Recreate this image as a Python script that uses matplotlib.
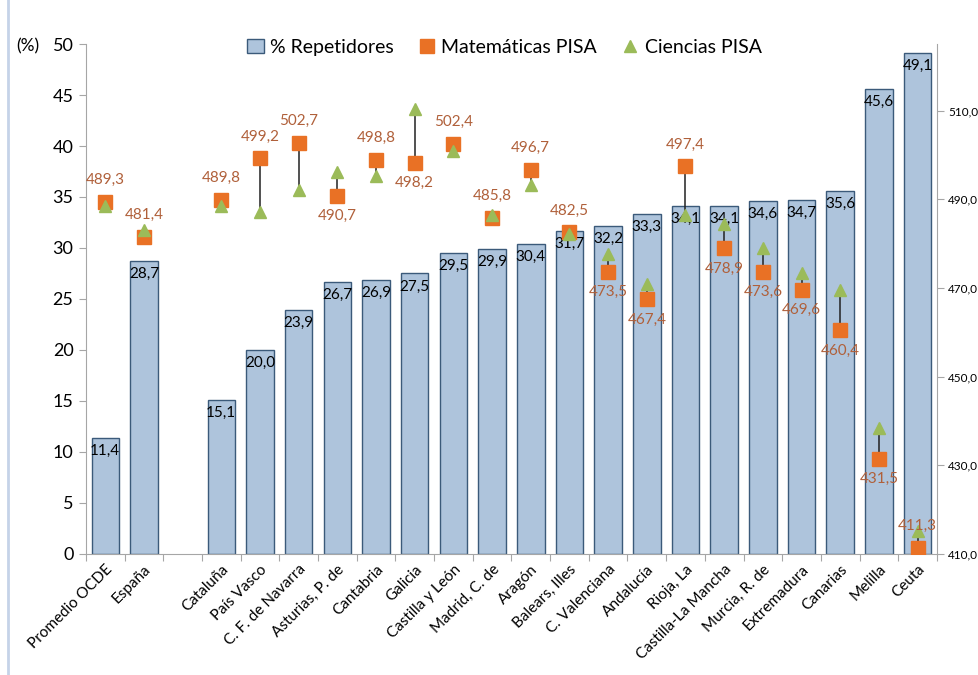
import matplotlib
matplotlib.use("Agg")
import matplotlib.pyplot as plt
import numpy as np

plt.rcParams['font.family'] = ['Lato', 'DejaVu Sans']

categories = ["Promedio OCDE", "España", "", "Cataluña", "País Vasco", "C. F. de Navarra",
              "Asturias, P. de", "Cantabria", "Galicia", "Castilla y León", "Madrid, C. de",
              "Aragón", "Balears, Illes", "C. Valenciana", "Andalucía", "Rioja, La",
              "Castilla-La Mancha", "Murcia, R. de", "Extremadura", "Canarias", "Melilla", "Ceuta"]
repetidores = [11.4, 28.7, np.nan, 15.1, 20.0, 23.9, 26.7, 26.9, 27.5, 29.5, 29.9, 30.4,
               31.7, 32.2, 33.3, 34.1, 34.1, 34.6, 34.7, 35.6, 45.6, 49.1]
matematicas = [489.3, 481.4, np.nan, 489.8, 499.2, 502.7, 490.7, 498.8, 498.2, 502.4, 485.8,
               496.7, 482.5, 473.5, 467.4, 497.4, 478.9, 473.6, 469.6, 460.4, 431.5, 411.3]
ciencias = [488.5, 483.0, np.nan, 488.5, 487.2, 492.0, 496.1, 495.3, 510.4, 500.8, 486.5,
            493.3, 482.2, 477.6, 470.8, 486.5, 484.3, 478.9, 473.4, 469.5, 438.4, 415.2]
# label below marker (True) or above (False)
label_below = [False, False, False, False, False, False, True, False, True, False, False,
               False, False, True, True, False, True, True, True, True, True, False]

bar_fill = "#AEC4DC"
bar_edge = "#3B5A7A"
orange = "#E97125"
green = "#9BBB59"
label_brown = "#B0603A"
grey = "#A6A6A6"

fig = plt.figure(figsize=(9.79, 6.75), dpi=100)
ax = fig.add_axes([0.0878, 0.1793, 0.8692, 0.7555])
ax2 = ax.twinx()

x = np.arange(len(categories))
ax.bar(x, repetidores, width=0.71, color=bar_fill, edgecolor=bar_edge, linewidth=1.0,
       label="% Repetidores", zorder=2)
for xi, v in zip(x, repetidores):
    if np.isnan(v):
        continue
    ax.annotate(f"{v:.1f}".replace(".", ","), (xi, v), xytext=(0, -13), textcoords="offset pixels",
                ha="center", va="center", fontsize=11, color="black", zorder=5)

ax.set_xlim(-0.5, len(categories) - 0.5)
ax.set_ylim(0, 50)
ax.set_yticks(np.arange(0, 51, 5))
ax.set_xticks(np.arange(-0.5, len(categories) + 0.5, 1), minor=False)
ax.set_xticklabels([])
ax.set_xticks(x, minor=True)
ax.set_xticklabels(categories, minor=True, rotation=45, ha="right", rotation_mode="anchor",
                   fontsize=11)
ax.tick_params(axis="x", which="minor", length=0, pad=6)
ax.tick_params(axis="x", which="major", length=5, color=grey, direction="out")
ax.tick_params(axis="y", length=5, color=grey, labelsize=13, pad=4)
for s in ["top", "right"]:
    ax.spines[s].set_visible(False)
ax.spines["left"].set_color(grey)
ax.spines["bottom"].set_color(grey)

# secondary axis
ax2.set_ylim(410, 525)
ax2.set_yticks(np.arange(410, 511, 20))
ax2.set_yticklabels([f"{t:.1f}".replace(".", ",") for t in np.arange(410, 511, 20)])
ax2.tick_params(axis="y", length=5, color=grey, labelsize=8.5, pad=3)
for s in ["top", "left", "bottom"]:
    ax2.spines[s].set_visible(False)
ax2.spines["right"].set_color(grey)

# high-low lines
for xi, m, c in zip(x, matematicas, ciencias):
    if np.isnan(m):
        continue
    ax2.plot([xi, xi], [m, c], color="#222222", linewidth=1.1, zorder=3)

ax2.plot(x, matematicas, linestyle="none", marker="s", markersize=10.5, color=orange,
         label="Matemáticas PISA", zorder=4)
ax2.plot(x, ciencias, linestyle="none", marker="^", markersize=9, color=green,
         label="Ciencias PISA", zorder=5)

for xi, m, below in zip(x, matematicas, label_below):
    if np.isnan(m):
        continue
    off = -20 if below else 22
    ax2.annotate(f"{m:.1f}".replace(".", ","), (xi, m), xytext=(0, off), textcoords="offset pixels",
                 ha="center", va="center", fontsize=11, color=label_brown, zorder=6)

fig.text(0.028, 0.932, "(%)", fontsize=12.5, ha="center", va="center")

handles1, labels1 = ax.get_legend_handles_labels()
handles2, labels2 = ax2.get_legend_handles_labels()
leg = fig.legend(handles1 + handles2, labels1 + labels2, loc="center", bbox_to_anchor=(0.515, 0.93),
                 ncol=3, frameon=False, fontsize=14, handlelength=0.9, handletextpad=0.3,
                 columnspacing=1.25)

# faint frame line on the left
fig.add_artist(plt.Line2D([0.0085, 0.0085], [0.0, 1.0], transform=fig.transFigure,
                          color="#C5D3E8", linewidth=2))

fig.savefig("out.png", dpi=100)
